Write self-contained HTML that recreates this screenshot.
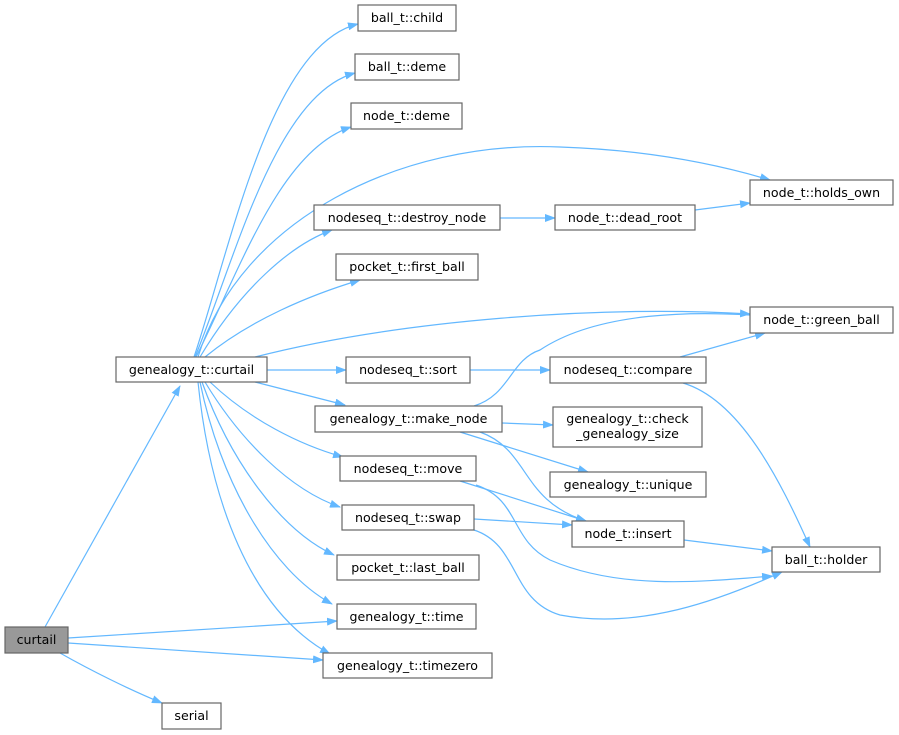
<!DOCTYPE html>
<html><head><meta charset="utf-8"><style>
html,body{margin:0;padding:0;background:#fff;}
svg{display:block;}
text{font-family:"DejaVu Sans","Liberation Sans",sans-serif;font-size:12.6px;fill:#000;}
rect{fill:#fff;stroke:#666;stroke-width:1.2;}
path.e{fill:none;stroke:#63b8ff;stroke-width:1.2;}
</style></head><body>
<svg width="899" height="735" viewBox="0 0 899 735" xmlns="http://www.w3.org/2000/svg">
<defs><marker id="a" markerWidth="11" markerHeight="8" refX="10" refY="4" orient="auto" markerUnits="userSpaceOnUse"><path d="M0,0 L11,4 L0,8 z" fill="#63b8ff"/></marker></defs>
<g>
<path class="e" marker-end="url(#a)" d="M45,627 L180,386"/>
<path class="e" marker-end="url(#a)" d="M68,638 L337,621"/>
<path class="e" marker-end="url(#a)" d="M68,643 L323,660"/>
<path class="e" marker-end="url(#a)" d="M60,653 C90,670 130,690 162,703"/>
<path class="e" marker-end="url(#a)" d="M194,357 C230,250 270,45 358,24"/>
<path class="e" marker-end="url(#a)" d="M195,357 C235,260 275,95 355,73"/>
<path class="e" marker-end="url(#a)" d="M196,357 C240,270 280,150 351,127"/>
<path class="e" marker-end="url(#a)" d="M198,357 C240,220 400,140 560,147 C650,150 720,165 770,180"/>
<path class="e" marker-end="url(#a)" d="M200,357 C240,290 290,245 332,230"/>
<path class="e" marker-end="url(#a)" d="M205,357 C250,320 310,295 360,280"/>
<path class="e" marker-end="url(#a)" d="M255,357 C400,320 600,305 750,314"/>
<path class="e" marker-end="url(#a)" d="M267,370 L346,370"/>
<path class="e" marker-end="url(#a)" d="M255,382 L345,405"/>
<path class="e" marker-end="url(#a)" d="M210,382 C250,420 300,445 343,457"/>
<path class="e" marker-end="url(#a)" d="M205,382 C240,440 290,490 340,507"/>
<path class="e" marker-end="url(#a)" d="M202,382 C230,460 280,530 334,555"/>
<path class="e" marker-end="url(#a)" d="M200,382 C220,480 270,570 332,604"/>
<path class="e" marker-end="url(#a)" d="M198,382 C210,500 250,610 330,654"/>
<path class="e" marker-end="url(#a)" d="M500,218 L555,218"/>
<path class="e" marker-end="url(#a)" d="M695,210 L750,203"/>
<path class="e" marker-end="url(#a)" d="M470,370 L550,370"/>
<path class="e" marker-end="url(#a)" d="M680,357 L765,333"/>
<path class="e" marker-end="url(#a)" d="M683,383 C740,400 780,480 810,547"/>
<path class="e" d="M474,406 C510,395 510,360 540,350 C600,310 700,312 750,315"/>
<path class="e" marker-end="url(#a)" d="M502,423 L553,425"/>
<path class="e" marker-end="url(#a)" d="M460,432 L588,472"/>
<path class="e" marker-end="url(#a)" d="M480,432 C530,450 520,500 586,521"/>
<path class="e" marker-end="url(#a)" d="M460,481 L586,521"/>
<path class="e" marker-end="url(#a)" d="M476,485 C520,500 510,540 550,560 C620,590 700,582 772,576"/>
<path class="e" marker-end="url(#a)" d="M474,519 L572,525"/>
<path class="e" marker-end="url(#a)" d="M474,530 C520,545 510,600 560,615 C640,630 720,600 782,572"/>
<path class="e" marker-end="url(#a)" d="M684,540 L772,551"/>
</g>
<g>
<rect x="5" y="627" width="63" height="26" style="fill:#999"/><text x="36.5" y="644" text-anchor="middle">curtail</text>
<rect x="116" y="357" width="151" height="25"/><text x="191.5" y="374" text-anchor="middle">genealogy_t::curtail</text>
<rect x="162" y="703" width="59" height="26"/><text x="191.5" y="720" text-anchor="middle">serial</text>
<rect x="337" y="604" width="139" height="25"/><text x="406.5" y="621" text-anchor="middle">genealogy_t::time</text>
<rect x="323" y="653" width="169" height="25"/><text x="407.5" y="670" text-anchor="middle">genealogy_t::timezero</text>
<rect x="358" y="5" width="98" height="26"/><text x="407" y="22" text-anchor="middle">ball_t::child</text>
<rect x="355" y="54" width="104" height="26"/><text x="407" y="71" text-anchor="middle">ball_t::deme</text>
<rect x="351" y="103" width="111" height="26"/><text x="406.5" y="120" text-anchor="middle">node_t::deme</text>
<rect x="314" y="205" width="186" height="25"/><text x="407" y="222" text-anchor="middle">nodeseq_t::destroy_node</text>
<rect x="555" y="205" width="140" height="25"/><text x="625" y="222" text-anchor="middle">node_t::dead_root</text>
<rect x="750" y="180" width="143" height="25"/><text x="821.5" y="197" text-anchor="middle">node_t::holds_own</text>
<rect x="336" y="254" width="142" height="26"/><text x="407" y="271" text-anchor="middle">pocket_t::first_ball</text>
<rect x="750" y="307" width="143" height="26"/><text x="821.5" y="324" text-anchor="middle">node_t::green_ball</text>
<rect x="346" y="357" width="124" height="26"/><text x="408" y="374" text-anchor="middle">nodeseq_t::sort</text>
<rect x="550" y="357" width="156" height="26"/><text x="628" y="374" text-anchor="middle">nodeseq_t::compare</text>
<rect x="315" y="406" width="187" height="26"/><text x="408.5" y="423" text-anchor="middle">genealogy_t::make_node</text>
<rect x="553" y="407" width="149" height="40"/><text x="627.5" y="423" text-anchor="middle">genealogy_t::check</text><text x="627.5" y="438" text-anchor="middle">_genealogy_size</text>
<rect x="550" y="472" width="156" height="25"/><text x="628" y="489" text-anchor="middle">genealogy_t::unique</text>
<rect x="340" y="456" width="136" height="25"/><text x="408" y="473" text-anchor="middle">nodeseq_t::move</text>
<rect x="342" y="505" width="132" height="25"/><text x="408" y="522" text-anchor="middle">nodeseq_t::swap</text>
<rect x="572" y="521" width="112" height="26"/><text x="628" y="538" text-anchor="middle">node_t::insert</text>
<rect x="772" y="547" width="108" height="25"/><text x="826" y="564" text-anchor="middle">ball_t::holder</text>
<rect x="337" y="555" width="142" height="25"/><text x="408" y="572" text-anchor="middle">pocket_t::last_ball</text>
</g>
</svg>
</body></html>
